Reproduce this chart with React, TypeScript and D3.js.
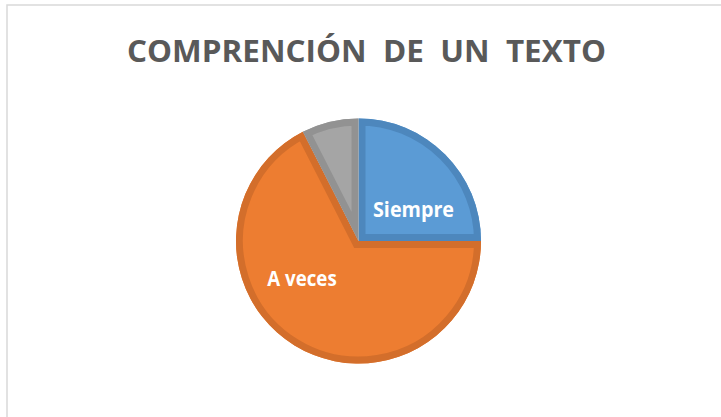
import React from "react";
import * as d3 from "d3";

const categories = ["Siempre", "A veces", "Nunca"];
const values = [10, 27, 3];
const fills = ["#5B9BD5", "#ED7D31", "#A5A5A5"];
const borders = ["#4D87BD", "#D36E2B", "#929292"];
const showLabel = [true, true, false];
const title = "COMPRENCIÓN  DE  UN  TEXTO";

export default function App() {
  const W = 721, H = 417;
  const cx = 358.5, cy = 241, r = 122.5;
  const pie = d3.pie<number>().sort(null).value((d) => d)(values);
  const arc = d3.arc<d3.PieArcDatum<number>>().innerRadius(0).outerRadius(r);
  const labelPos = [
    { x: 413.5, y: 217 },
    { x: 302, y: 286 },
    { x: 0, y: 0 },
  ];
  return (
    <svg width={W} height={H} style={{ position: "absolute", left: 0, top: 0, display: "block" }}>
      <rect x={0} y={0} width={W} height={H} fill="#ffffff" />
      <rect x={7} y={5} width={W + 50} height={H + 50} fill="#ffffff" stroke="#d9d9d9" strokeWidth={1.5} />
      <text
        x={366.5}
        y={61.5}
        textAnchor="middle"
        fontFamily="'Open Sans', sans-serif"
        fontWeight="bold"
        fontSize={31}
        fill="#595959"
        textLength={479}
        lengthAdjust="spacingAndGlyphs"
        style={{ whiteSpace: "pre" }}
      >
        {title}
      </text>
      <defs>
        {pie.map((p, i) => (
          <clipPath id={`clip${i}`} key={i}>
            <path d={arc(p) || ""} />
          </clipPath>
        ))}
      </defs>
      <g transform={`translate(${cx},${cy})`}>
        {pie.map((p, i) => (
          <g key={i}>
            <path d={arc(p) || ""} fill={fills[i]} />
            <path d={arc(p) || ""} fill="none" stroke={borders[i]} strokeWidth={14} clipPath={`url(#clip${i})`} />
          </g>
        ))}
      </g>
      {categories.map((c, i) =>
        showLabel[i] ? (
          <text
            key={c}
            x={labelPos[i].x}
            y={labelPos[i].y}
            textAnchor="middle"
            fontFamily="'Open Sans', sans-serif"
            fontWeight="bold"
            fontSize={21}
            fill="#ffffff"
            textLength={i === 0 ? 81 : 69.5}
            lengthAdjust="spacingAndGlyphs"
          >
            {c}
          </text>
        ) : null
      )}
    </svg>
  );
}
